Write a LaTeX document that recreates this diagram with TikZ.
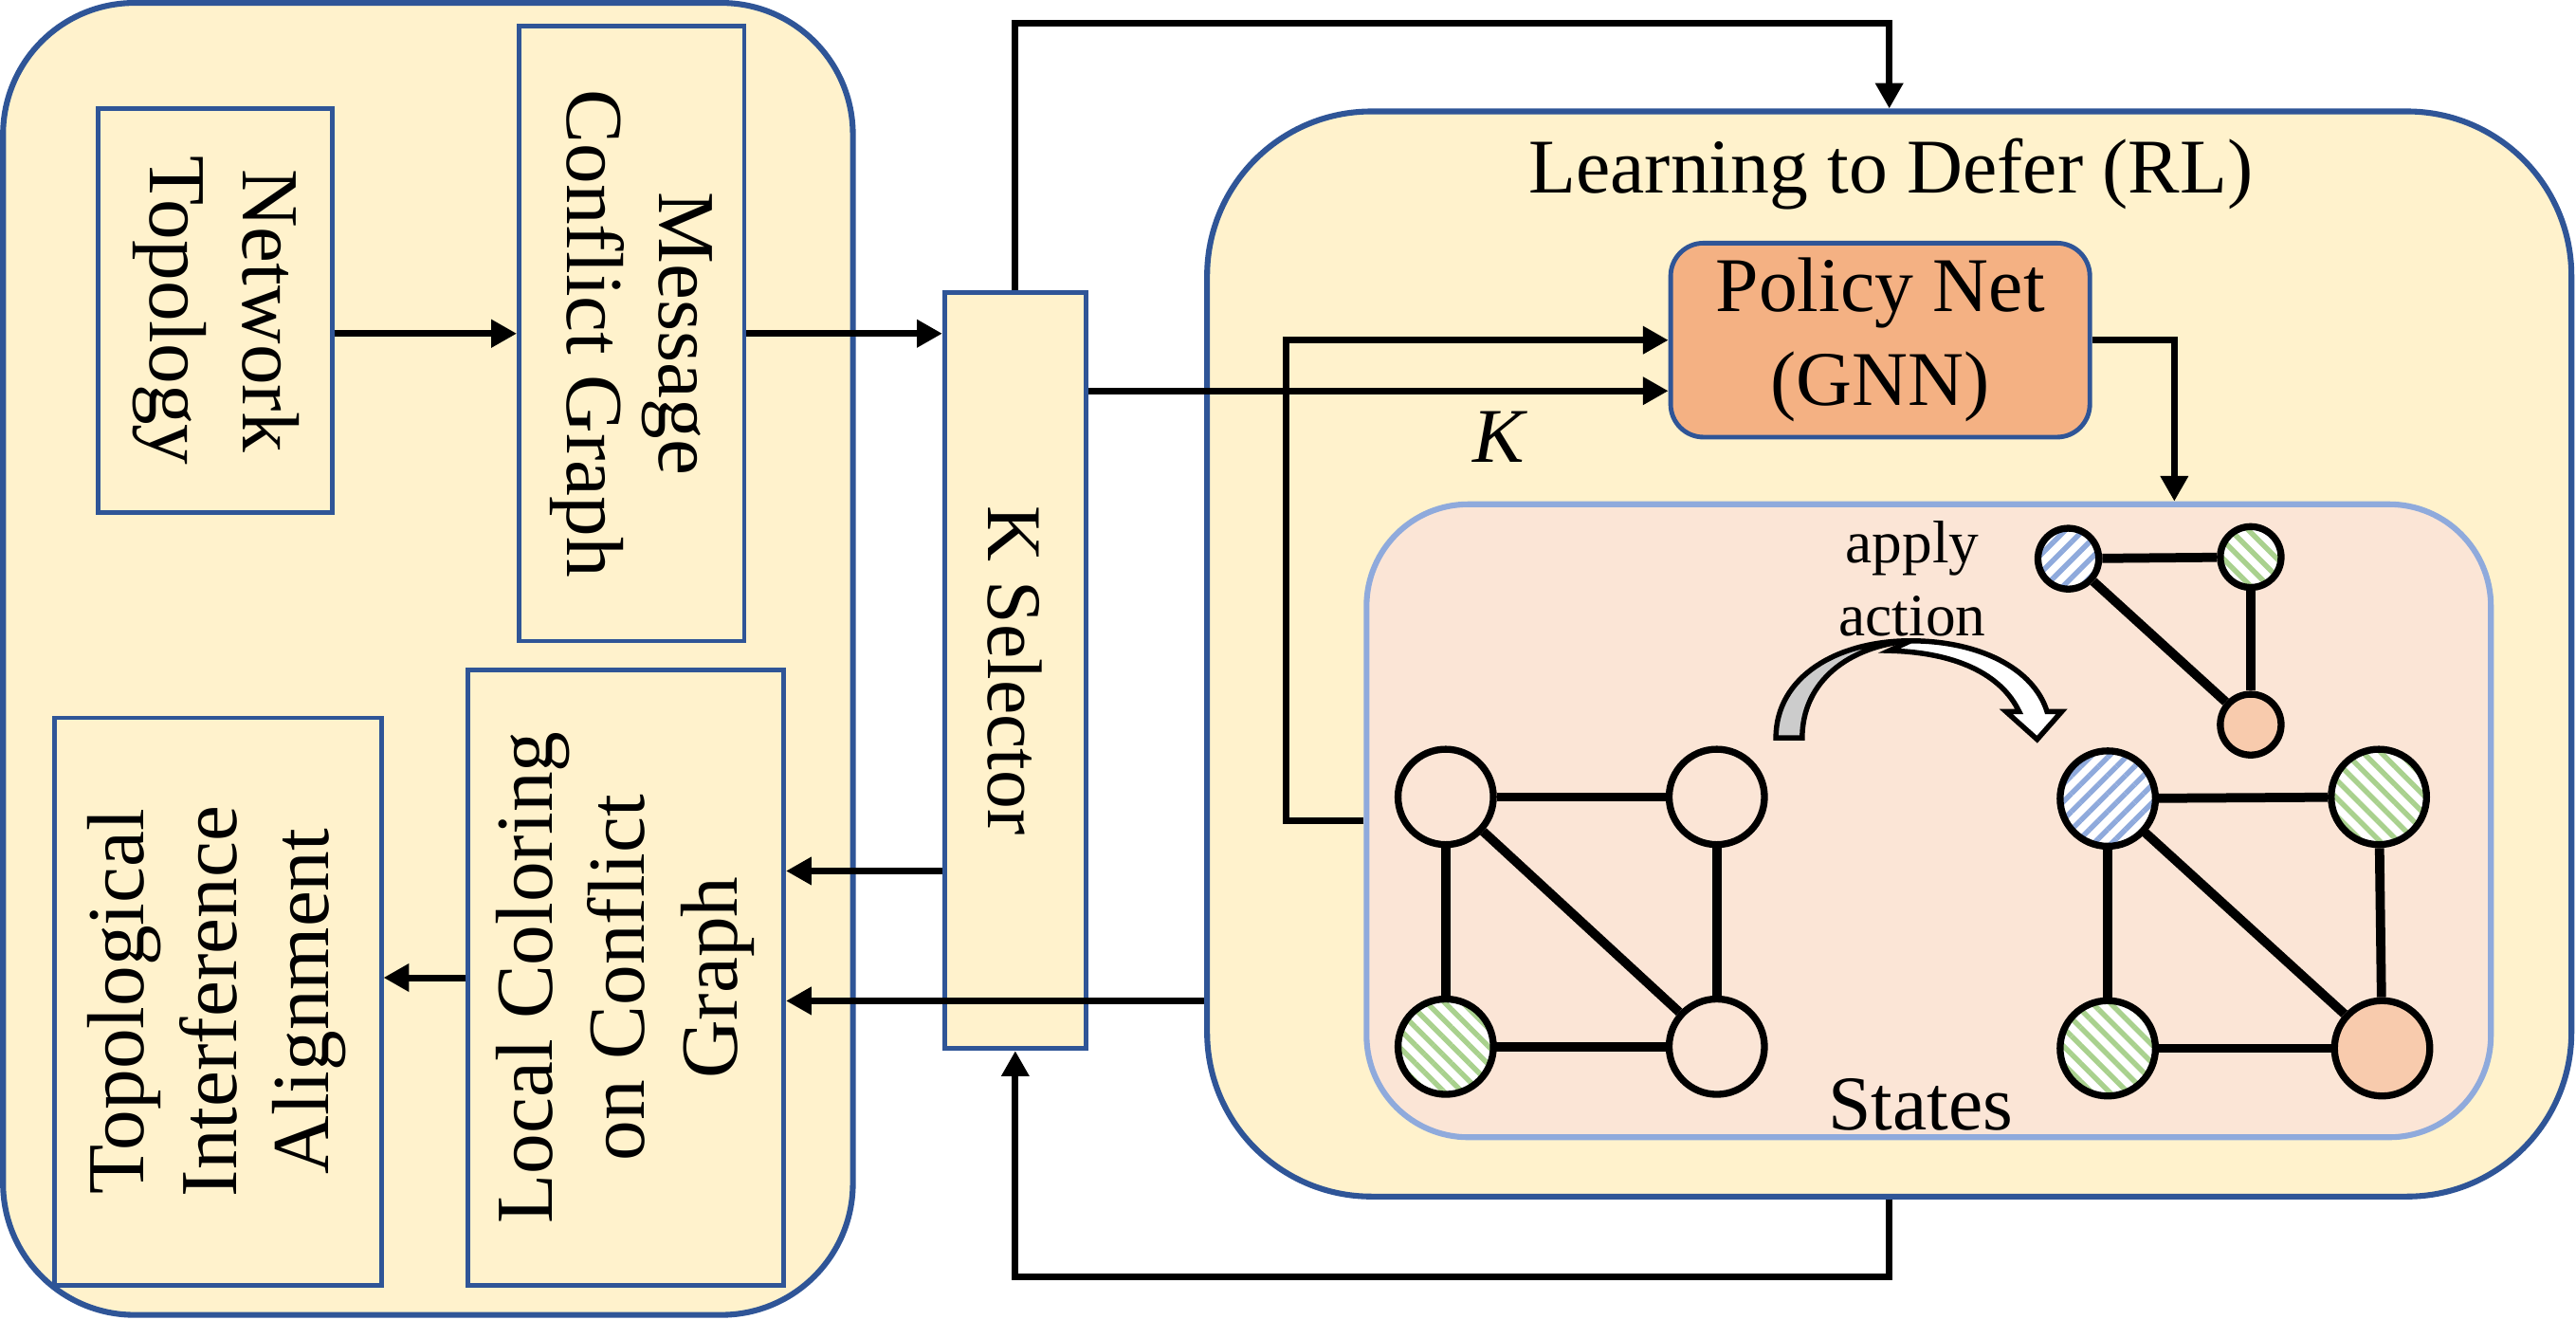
\documentclass[tikz,border=0pt]{standalone}
\usepackage{fontspec}
\setmainfont{Liberation Serif}
\usetikzlibrary{arrows.meta,patterns.meta}

\definecolor{boxfill}{HTML}{FFF2CC}
\definecolor{boxline}{HTML}{2F5597}
\definecolor{netfill}{HTML}{F4B183}
\definecolor{statefill}{HTML}{FBE5D6}
\definecolor{stateline}{HTML}{8FAADC}
\definecolor{peach}{HTML}{F8CBAD}
\definecolor{hblue}{HTML}{8FAADC}
\definecolor{hgreen}{HTML}{A9D18E}
\definecolor{backgray}{HTML}{CCCCCC}

\newcommand{\vtxt}[1]{\rotatebox{-90}{\begin{tabular}{@{}c@{}}#1\end{tabular}}}
\newcommand{\utxt}[1]{\rotatebox{90}{\begin{tabular}{@{}c@{}}#1\end{tabular}}}

\begin{document}
\begin{tikzpicture}[x=0.01cm,y=-0.01cm,
	font=\fontsize{13.4}{16.2}\selectfont,
	block/.style={draw=boxline,line width=0.8pt,fill=boxfill,inner sep=0pt},
	vblock/.style={block,font=\fontsize{14}{16}\selectfont},
	arr/.style={line width=1.15pt,-{Triangle[length=4.4pt,width=4.6pt]}},
	vtx/.style={circle,draw,line width=1.2pt,inner sep=0pt,minimum size=0.58cm},
	svtx/.style={vtx,minimum size=0.37cm},
	bluev/.style={preaction={fill=white},pattern={Lines[angle=45,distance=2.2pt,line width=0.9pt]},pattern color=hblue},
	greenv/.style={preaction={fill=white},pattern={Lines[angle=-45,distance=2.2pt,line width=0.9pt]},pattern color=hgreen},
	orangev/.style={fill=peach},
	gedge/.style={line width=1.6pt}]
	\useasboundingbox (0,0) rectangle (1568,803);

	% left part
	\node[block,line width=1pt,rounded corners=0.8cm,minimum width=5.17cm,minimum height=7.98cm] (prep) at (260.5,401) {};
	\node[vblock,minimum width=1.42cm,minimum height=2.46cm] (topo) at (131,189) {\vtxt{Network\\Topology}};
	\node[vblock,minimum width=1.37cm,minimum height=3.74cm] (mcg) at (384.5,203) {\vtxt{Message\\Conflict Graph}};
	\node[vblock,minimum width=1.92cm,minimum height=3.74cm] (lcol) at (381,595) {\utxt{Local Coloring\\on Conflict\\Graph}};
	\node[vblock,minimum width=1.99cm,minimum height=3.45cm] (tia) at (132.5,609.5) {\utxt{Topological\\Interference\\Alignment}};

	% selector
	\node[block,minimum width=0.86cm,minimum height=4.6cm] (ksel) at (618,408) {\rotatebox{-90}{K Selector}};

	% RL part
	\node[block,line width=1pt,rounded corners=1cm,minimum width=8.3cm,minimum height=6.6cm] (rl) at (1150,398) {};
	\node (rltitle) at (1151,106) {Learning to Defer (RL)};
	\node[draw=boxline,fill=netfill,line width=0.8pt,rounded corners=0.2cm,minimum width=2.55cm,minimum height=1.18cm,align=center,inner sep=0pt] (policy) at (1144.5,207) {Policy Net\\(GNN)};
	\node[draw=stateline,fill=statefill,line width=1pt,rounded corners=0.62cm,minimum width=6.84cm,minimum height=3.85cm] (states) at (1174,499.5) {};
	\node[inner sep=0pt] (statelbl) at (1169,672) {States};
	\node[align=center,inner sep=0pt,font=\fontsize{10.4}{12.6}\selectfont] (actlbl) at (1164,352) {apply\\action};

	% curved arrow
	\filldraw[fill=white,line width=0.9pt] (1163,390) .. controls (1205,390) and (1238,407) .. (1246,433) -- (1255,433) -- (1240,450) -- (1221,433) -- (1229,433) .. controls (1218,410) and (1190,397) .. (1150,396) -- cycle;
	\filldraw[fill=backgray,line width=0.9pt] (1081,449) .. controls (1081,412) and (1118,390) .. (1163,390) .. controls (1125,393) and (1097,415) .. (1097,449) -- cycle;

	% graphs
	\node[vtx] (g1) at (880,485) {};
	\node[vtx] (g2) at (1045,485) {};
	\node[vtx,greenv] (g3) at (880,637) {};
	\node[vtx] (g4) at (1045,637) {};
	\node[vtx,bluev] (h1) at (1283,486) {};
	\node[vtx,greenv] (h2) at (1448,485) {};
	\node[vtx,greenv] (h3) at (1283,638) {};
	\node[vtx,orangev] (h4) at (1450,638) {};
	\node[svtx,bluev] (s1) at (1259,340) {};
	\node[svtx,greenv] (s2) at (1370,339) {};
	\node[svtx,orangev] (s3) at (1370,441) {};
	\draw[gedge] (g1) -- (g2);
	\draw[gedge] (g1) -- (g3);
	\draw[gedge] (g2) -- (g4);
	\draw[gedge] (g3) -- (g4);
	\draw[gedge] (g1) -- (g4);
	\draw[gedge] (h1) -- (h2);
	\draw[gedge] (h1) -- (h3);
	\draw[gedge] (h2) -- (h4);
	\draw[gedge] (h3) -- (h4);
	\draw[gedge] (h1) -- (h4);
	\draw[gedge] (s1) -- (s2);
	\draw[gedge] (s2) -- (s3);
	\draw[gedge] (s1) -- (s3);

	% arrows
	\draw[arr] (topo.east |- mcg.west) -- (mcg.west);
	\draw[arr] (mcg.east) -- (mcg.east -| ksel.west);
	\draw[arr] (lcol.west) -- (lcol.west -| tia.east);
	\draw[arr] ([yshift=-1.22cm]ksel.west) -- ([yshift=-1.22cm]ksel.west -| lcol.east);
	\draw[arr] ([yshift=-2.11cm]rl.west) -- ([yshift=-2.11cm]rl.west -| lcol.east);
	\draw[arr] (ksel.north) |- ([yshift=0.52cm]rl.north) -- (rl.north);
	\draw[arr] (rl.south) -- ([yshift=-0.47cm]rl.south) -| (ksel.south);
	\draw[arr] ([yshift=1.7cm]ksel.east) -- ([yshift=1.7cm]ksel.east -| policy.west) node[pos=0.71,below=3pt,inner sep=0pt] (klab) {\textit{K}};
	\draw[arr] (states.west) -- ++(-47,0) |- (policy.west);
	\coordinate (pout) at ([xshift=0.5cm]policy.east);
	\draw[arr] (policy.east) -- (pout) -- (pout |- states.north);
\end{tikzpicture}
\end{document}
